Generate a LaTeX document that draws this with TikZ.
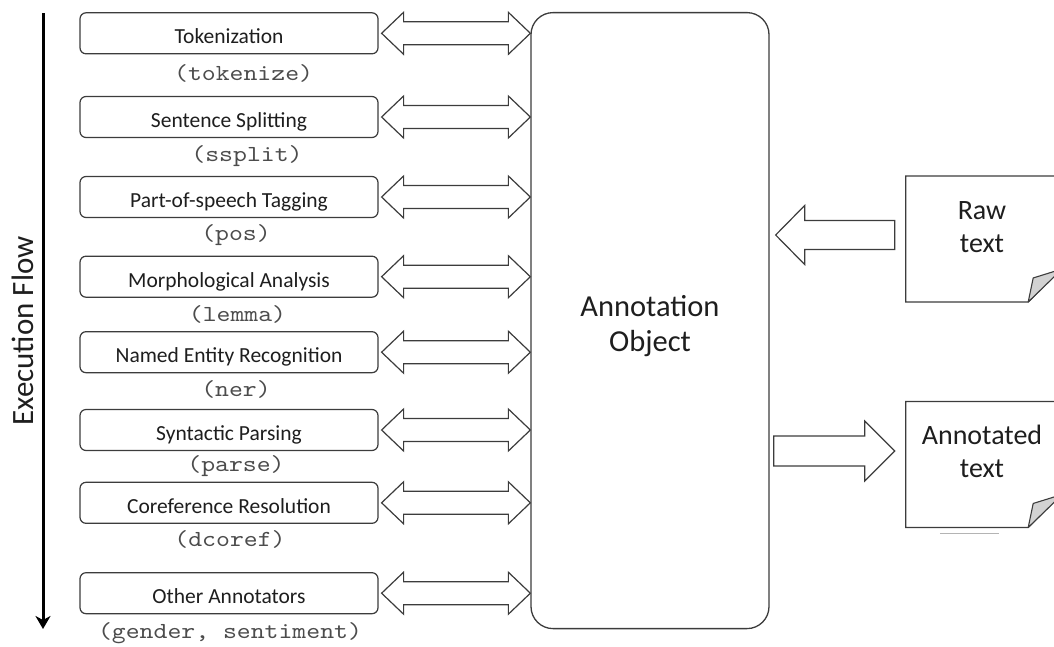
\documentclass[tikz,border=0pt]{standalone}
\usepackage{fontspec}
\setmainfont{Carlito}
\newfontfamily\codefont[FakeStretch=1.15]{lmmono10-regular.otf}
\usetikzlibrary{calc,arrows.meta}

\definecolor{edge}{HTML}{3C3C3C}
\definecolor{ink}{HTML}{1E1E1E}
\definecolor{codegray}{HTML}{4C4C4C}
\definecolor{flapgray}{HTML}{D2D2D2}
\definecolor{undergray}{HTML}{B4B4B4}

\tikzset{
  stagebox/.style={draw=edge, line width=1.2pt, rounded corners=6pt, fill=white,
    minimum width=298pt, minimum height=41pt, inner sep=0pt,
    text height=21pt, text depth=0pt, text=ink, font=\fontsize{21.5}{25}\selectfont},
  codelabel/.style={anchor=base, inner sep=0pt, text=codegray,
    font=\codefont\fontsize{23}{26}\selectfont},
  blockarrow/.style={draw=edge, line width=1.2pt, fill=white, line join=miter},
  bigtext/.style={anchor=base, inner sep=0pt, text=ink, font=\fontsize{30.5}{36}\selectfont},
  doctext/.style={anchor=base, inner sep=0pt, text=ink, font=\fontsize{28}{34}\selectfont},
  docframe/.style={minimum width=156pt, minimum height=125.5pt, inner sep=0pt},
  docpage/.style={draw=edge, line width=1.3pt, fill=white},
  docflap/.style={draw=edge, line width=1.1pt, fill=flapgray, line join=round},
}

% two-headed block arrow from a stage box to the annotation object
\newcommand\linkarrow[1]{%
  \coordinate (#1L) at ($(#1.east)+(3,0)$);
  \coordinate (#1R) at (ann.west |- #1.east);
  \draw[blockarrow] (#1L) -- ++(22,-21) -- ++(0,9.5) -- ($(#1R)+(-22,-11.5)$)
    -- ++(0,-9.5) -- (#1R) -- ++(-22,21) -- ++(0,-9.5) -- ($(#1L)+(22,11.5)$)
    -- ++(0,9.5) -- cycle;}

\begin{document}
\begin{tikzpicture}[x=1pt,y=-1pt]
\useasboundingbox (0,0) rectangle (1054,646);
\clip (0,0) rectangle (1054,646);

% execution flow axis
\coordinate (flowtop) at (43,13);
\coordinate (flowend) at (43,629);
\draw[line width=3pt, -{Stealth[length=13pt,width=15pt,inset=4pt]}] (flowtop) -- (flowend);
\node[rotate=90, anchor=base, inner sep=0pt, text=ink, font=\fontsize{31}{36}\selectfont]
  (flowlabel) at (33,331) {Execution Flow};

% pipeline stages
\node[stagebox] (tok) at (229,33.3)  {Tokenization};
\node[stagebox] (ssp) at (229,117)   {Sentence Splitting};
\node[stagebox] (pos) at (229,197)   {Part-of-speech Tagging};
\node[stagebox] (lem) at (229,276.7) {Morphological Analysis};
\node[stagebox] (ner) at (229,352.2) {Named Entity Recognition};
\node[stagebox] (par) at (229,430)   {Syntactic Parsing};
\node[stagebox] (cor) at (229,502.8) {Coreference Resolution};
\node[stagebox] (oth) at (229,593.2) {Other Annotators};

% annotator names
\node[codelabel] (tokname) at ($(tok.center)+(14.6,46.7)$) {(tokenize)};
\node[codelabel] (sspname) at ($(ssp.center)+(18,44.7)$)   {(ssplit)};
\node[codelabel] (posname) at ($(pos.center)+(7,43)$)      {(pos)};
\node[codelabel] (lemname) at ($(lem.center)+(8.5,45)$)    {(lemma)};
\node[codelabel] (nername) at ($(ner.center)+(7,43.8)$)    {(ner)};
\node[codelabel] (parname) at ($(par.center)+(7,41.7)$)    {(parse)};
\node[codelabel] (corname) at ($(cor.center)+(1,43.9)$)    {(dcoref)};
\node[codelabel] (othname) at ($(oth.center)+(1,45.1)$)    {(gender, sentiment)};

% annotation object
\node[draw=edge, line width=1.3pt, rounded corners=22pt, fill=white,
  minimum width=238pt, minimum height=616pt, inner sep=0pt] (ann) at (650,320.6) {};
\node[bigtext] (annline1) at (650,316) {Annotation};
\node[bigtext] (annline2) at (650,351) {Object};

% stage <-> annotation links
\linkarrow{tok}
\linkarrow{ssp}
\linkarrow{pos}
\linkarrow{lem}
\linkarrow{ner}
\linkarrow{par}
\linkarrow{cor}
\linkarrow{oth}

% raw text document
\node[docframe] (rawdoc) at (984,239) {};
\draw[docpage] (rawdoc.north west) -- (rawdoc.north east) -- ($(rawdoc.south east)+(0,-34)$)
  -- ($(rawdoc.south east)+(-34,0)$) -- (rawdoc.south west) -- cycle;
\draw[docflap] ($(rawdoc.south east)+(-34,0)$) -- ($(rawdoc.south east)+(-29,-24)$)
  -- ($(rawdoc.south east)+(0,-33)$) -- cycle;
\node[doctext] (rawline1) at (982,219.5) {Raw};
\node[doctext] (rawline2) at (982,252) {text};

% annotated text document
\node[docframe] (outdoc) at (984,464.5) {};
\draw[docpage] (outdoc.north west) -- (outdoc.north east) -- ($(outdoc.south east)+(0,-34)$)
  -- ($(outdoc.south east)+(-34,0)$) -- (outdoc.south west) -- cycle;
\draw[docflap] ($(outdoc.south east)+(-34,0)$) -- ($(outdoc.south east)+(-29,-24)$)
  -- ($(outdoc.south east)+(0,-33)$) -- cycle;
\node[doctext] (outline1) at (982,444) {Annotated};
\node[doctext] (outline2) at (982,477) {text};
\coordinate (underA) at ($(outdoc.south west)+(34,6)$);
\coordinate (underB) at ($(underA)+(59,0)$);
\draw[undergray, line width=1.5pt] (underA) -- (underB);

% input arrow: raw text -> annotation
\coordinate (rawtail) at ($(rawdoc.west)+(-11,-4)$);
\coordinate (rawtip) at ($(ann.east |- rawtail)+(6,0)$);
\draw[blockarrow] (rawtip) -- ++(29,-29.5) -- ++(0,15) -- ($(rawtail)+(0,-14.5)$)
  -- ++(0,29) -- ($(rawtip)+(29,14.5)$) -- ++(0,15) -- cycle;

% output arrow: annotation -> annotated text
\coordinate (outtip) at ($(outdoc.west)+(-11,-13.5)$);
\coordinate (outtail) at ($(ann.east |- outtip)+(4,0)$);
\draw[blockarrow] (outtail) -- ++(0,-15) -- ($(outtip)+(-30,-15)$) -- ++(0,-15)
  -- (outtip) -- ++(-30,30) -- ++(0,-15) -- ($(outtail)+(0,15)$) -- cycle;
\end{tikzpicture}
\end{document}
